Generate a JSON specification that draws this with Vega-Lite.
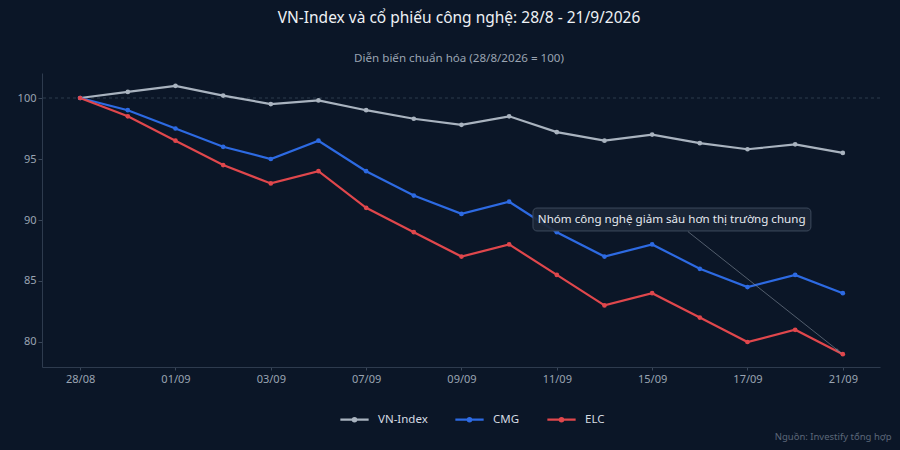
{
  "$schema": "https://vega.github.io/schema/vega-lite/v6.json",
  "width": 838,
  "height": 294,
  "autosize": {"type": "none"},
  "padding": {"left": 42, "top": 73, "right": 20, "bottom": 83},
  "background": "#0b1627",
  "title": {
    "text": "VN-Index và cổ phiếu công nghệ: 28/8 - 21/9/2026",
    "subtitle": "Diễn biến chuẩn hóa (28/8/2026 = 100)",
    "anchor": "middle",
    "dx": -2,
    "offset": 8,
    "fontSize": 15.5,
    "fontWeight": "normal",
    "color": "#eef1f5",
    "subtitleFontSize": 11.6,
    "subtitleColor": "#9aa4b2",
    "subtitlePadding": 27
  },
  "datasets": {
    "prices": [
      {"i": 0, "date": "28/08", "series": "VN-Index", "value": 100},
      {"i": 1, "date": "31/08", "series": "VN-Index", "value": 100.5},
      {"i": 2, "date": "01/09", "series": "VN-Index", "value": 101},
      {"i": 3, "date": "02/09", "series": "VN-Index", "value": 100.2},
      {"i": 4, "date": "03/09", "series": "VN-Index", "value": 99.5},
      {"i": 5, "date": "04/09", "series": "VN-Index", "value": 99.8},
      {"i": 6, "date": "07/09", "series": "VN-Index", "value": 99},
      {"i": 7, "date": "08/09", "series": "VN-Index", "value": 98.3},
      {"i": 8, "date": "09/09", "series": "VN-Index", "value": 97.8},
      {"i": 9, "date": "10/09", "series": "VN-Index", "value": 98.5},
      {"i": 10, "date": "11/09", "series": "VN-Index", "value": 97.2},
      {"i": 11, "date": "14/09", "series": "VN-Index", "value": 96.5},
      {"i": 12, "date": "15/09", "series": "VN-Index", "value": 97},
      {"i": 13, "date": "16/09", "series": "VN-Index", "value": 96.3},
      {"i": 14, "date": "17/09", "series": "VN-Index", "value": 95.8},
      {"i": 15, "date": "18/09", "series": "VN-Index", "value": 96.2},
      {"i": 16, "date": "21/09", "series": "VN-Index", "value": 95.5},
      {"i": 0, "date": "28/08", "series": "CMG", "value": 100},
      {"i": 1, "date": "31/08", "series": "CMG", "value": 99},
      {"i": 2, "date": "01/09", "series": "CMG", "value": 97.5},
      {"i": 3, "date": "02/09", "series": "CMG", "value": 96},
      {"i": 4, "date": "03/09", "series": "CMG", "value": 95},
      {"i": 5, "date": "04/09", "series": "CMG", "value": 96.5},
      {"i": 6, "date": "07/09", "series": "CMG", "value": 94},
      {"i": 7, "date": "08/09", "series": "CMG", "value": 92},
      {"i": 8, "date": "09/09", "series": "CMG", "value": 90.5},
      {"i": 9, "date": "10/09", "series": "CMG", "value": 91.5},
      {"i": 10, "date": "11/09", "series": "CMG", "value": 89},
      {"i": 11, "date": "14/09", "series": "CMG", "value": 87},
      {"i": 12, "date": "15/09", "series": "CMG", "value": 88},
      {"i": 13, "date": "16/09", "series": "CMG", "value": 86},
      {"i": 14, "date": "17/09", "series": "CMG", "value": 84.5},
      {"i": 15, "date": "18/09", "series": "CMG", "value": 85.5},
      {"i": 16, "date": "21/09", "series": "CMG", "value": 84},
      {"i": 0, "date": "28/08", "series": "ELC", "value": 100},
      {"i": 1, "date": "31/08", "series": "ELC", "value": 98.5},
      {"i": 2, "date": "01/09", "series": "ELC", "value": 96.5},
      {"i": 3, "date": "02/09", "series": "ELC", "value": 94.5},
      {"i": 4, "date": "03/09", "series": "ELC", "value": 93},
      {"i": 5, "date": "04/09", "series": "ELC", "value": 94},
      {"i": 6, "date": "07/09", "series": "ELC", "value": 91},
      {"i": 7, "date": "08/09", "series": "ELC", "value": 89},
      {"i": 8, "date": "09/09", "series": "ELC", "value": 87},
      {"i": 9, "date": "10/09", "series": "ELC", "value": 88},
      {"i": 10, "date": "11/09", "series": "ELC", "value": 85.5},
      {"i": 11, "date": "14/09", "series": "ELC", "value": 83},
      {"i": 12, "date": "15/09", "series": "ELC", "value": 84},
      {"i": 13, "date": "16/09", "series": "ELC", "value": 82},
      {"i": 14, "date": "17/09", "series": "ELC", "value": 80},
      {"i": 15, "date": "18/09", "series": "ELC", "value": 81},
      {"i": 16, "date": "21/09", "series": "ELC", "value": 79}
    ],
    "note": [
      {"note": "Nhóm công nghệ giảm sâu hơn thị trường chung", "x0": 9.5, "x1": 15.33, "y0": 90.98, "y1": 89.1, "tx": 12.41, "ty": 90.04, "ax0": 12.75, "ay0": 89.05, "ax1": 15.9, "ay1": 79.3}
    ]
  },
  "layer": [
    {
      "data": {"values": [{"ref": 100}]},
      "mark": {"type": "rule", "strokeDash": [3, 3], "color": "#2c3a4d", "strokeWidth": 1},
      "encoding": {"y": {"field": "ref", "type": "quantitative"}}
    },
    {
      "data": {"name": "prices"},
      "encoding": {
        "x": {
          "field": "i",
          "type": "quantitative",
          "scale": {"domain": [-0.8, 16.78], "nice": false, "zero": false},
          "axis": {
            "values": [0, 2, 4, 6, 8, 10, 12, 14, 16],
            "labelExpr": "['28/08','31/08','01/09','02/09','03/09','04/09','07/09','08/09','09/09','10/09','11/09','14/09','15/09','16/09','17/09','18/09','21/09'][datum.value]",
            "grid": false,
            "tickSize": 3,
            "labelPadding": 3,
            "title": "Nguồn: Investify tổng hợp",
            "titleX": 849,
            "titleY": 69,
            "titleAlign": "right",
            "titleBaseline": "middle",
            "titleFontSize": 9.5,
            "titleFontWeight": "normal",
            "titleColor": "#5c6779"
          }
        },
        "y": {
          "field": "value",
          "type": "quantitative",
          "scale": {"domain": [77.95, 102.05], "nice": false, "zero": false},
          "axis": {
            "values": [80, 85, 90, 95, 100],
            "grid": false,
            "tickSize": 4,
            "labelPadding": 2,
            "title": null
          }
        },
        "color": {
          "field": "series",
          "type": "nominal",
          "sort": ["VN-Index", "CMG", "ELC"],
          "scale": {
            "domain": ["VN-Index", "CMG", "ELC"],
            "range": ["#a9b3bf", "#2d6ae2", "#e0474c"]
          },
          "legend": {
            "title": null,
            "orient": "none",
            "direction": "horizontal",
            "legendX": 297,
            "legendY": 331,
            "symbolType": "M-1,0H1M-0.12,0A0.12,0.12,0,1,1,0.12,0A0.12,0.12,0,1,1,-0.12,0Z",
            "symbolSize": 800,
            "symbolStrokeWidth": 2.2,
            "labelOffset": 8,
            "columnPadding": 22,
            "labelFontSize": 11.5,
            "labelColor": "#d5dbe3"
          }
        }
      },
      "layer": [
        {"mark": {"type": "line", "strokeWidth": 2.2}},
        {"mark": {"type": "circle", "size": 22, "opacity": 1}}
      ]
    },
    {
      "data": {"name": "note"},
      "mark": {"type": "rect", "fill": "#1b2636", "fillOpacity": 0.92, "stroke": "#3d4a5d", "strokeWidth": 1, "cornerRadius": 4},
      "encoding": {
        "x": {"field": "x0", "type": "quantitative"},
        "x2": {"field": "x1"},
        "y": {"field": "y0", "type": "quantitative"},
        "y2": {"field": "y1"}
      }
    },
    {
      "data": {"name": "note"},
      "mark": {"type": "text", "fontSize": 11.6, "color": "#e6eaf0", "align": "center", "baseline": "middle"},
      "encoding": {
        "x": {"field": "tx", "type": "quantitative"},
        "y": {"field": "ty", "type": "quantitative"},
        "text": {"field": "note"}
      }
    },
    {
      "data": {"name": "note"},
      "mark": {"type": "rule", "color": "#7d8796", "strokeWidth": 0.8, "opacity": 0.8},
      "encoding": {
        "x": {"field": "ax0", "type": "quantitative"},
        "y": {"field": "ay0", "type": "quantitative"},
        "x2": {"field": "ax1"},
        "y2": {"field": "ay1"}
      }
    },
    {
      "data": {"name": "note"},
      "mark": {"type": "point", "shape": "wedge", "angle": 128, "size": 40, "color": "#7d8796", "filled": false, "strokeWidth": 0.8},
      "encoding": {
        "x": {"field": "ax1", "type": "quantitative"},
        "y": {"field": "ay1", "type": "quantitative"}
      }
    }
  ],
  "config": {
    "font": "Noto Sans",
    "view": {"stroke": null},
    "axis": {
      "domainColor": "#2e3b4e",
      "tickColor": "#3a4759",
      "labelColor": "#9aa4b2",
      "labelFontSize": 11,
      "labelFont": "Noto Sans"
    },
    "legend": {"labelFont": "Noto Sans"},
    "title": {"font": "Noto Sans", "subtitleFont": "Noto Sans"}
  }
}
